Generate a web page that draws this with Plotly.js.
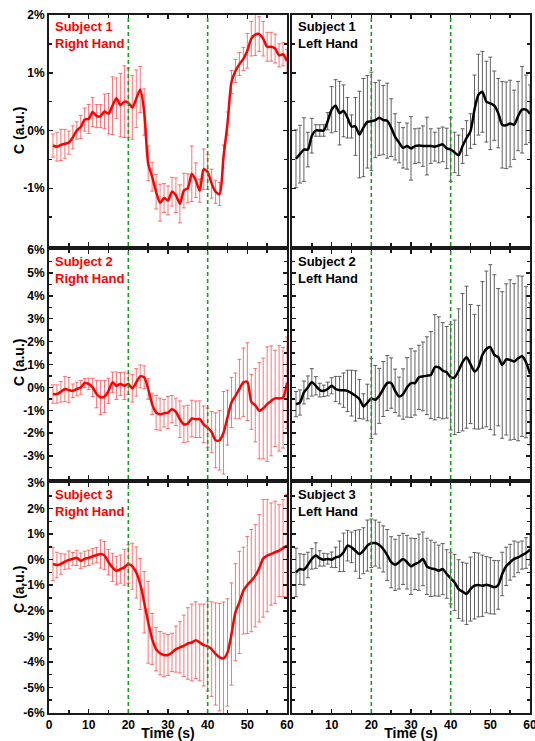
<!DOCTYPE html>
<html>
<head>
<meta charset="utf-8">
<script src="https://cdn.plot.ly/plotly-3.0.1.min.js"></script>
<style>html,body{margin:0;padding:0;background:#fff;}#chart{width:535px;height:741px;}</style>
</head>
<body>
<div id="chart"></div>
<script>
const time = [1,2,3,4,5,6,7,8,9,10,11,12,13,14,15,16,17,18,19,20,21,22,23,24,25,26,27,28,29,30,31,32,33,34,35,36,37,38,39,40,41,42,43,44,45,46,47,48,49,50,51,52,53,54,55,56,57,58,59,60];

const s1Right = [-0.26,-0.28,-0.25,-0.23,-0.21,-0.12,0.0,0.06,0.19,0.2,0.32,0.25,0.25,0.33,0.29,0.43,0.56,0.44,0.5,0.48,0.4,0.55,0.71,0.32,-0.57,-0.8,-1.06,-1.25,-1.17,-1.21,-1.06,-1.12,-1.27,-1.04,-1.0,-0.75,-0.86,-1.04,-0.67,-0.72,-0.92,-1.06,-1.1,-0.45,0.12,0.84,1.03,1.15,1.24,1.38,1.59,1.66,1.67,1.59,1.45,1.45,1.42,1.3,1.32,1.2];
const s1RightErr = [0.2,0.25,0.27,0.25,0.2,0.2,0.15,0.2,0.2,0.25,0.25,0.2,0.2,0.3,0.35,0.5,0.35,0.55,0.62,0.6,0.55,0.5,0.4,0.4,0.3,0.25,0.3,0.32,0.25,0.25,0.25,0.3,0.33,0.3,0.25,0.48,0.3,0.2,0.35,0.3,0.25,0.2,0.2,0.2,0.2,0.2,0.2,0.2,0.2,0.3,0.3,0.36,0.3,0.3,0.25,0.25,0.25,0.2,0.2,0.2];

const s1Left = [-0.49,-0.41,-0.33,-0.33,-0.09,0.0,0.0,0.0,0.16,0.36,0.43,0.3,0.34,0.22,0.07,0.07,-0.07,0.05,0.15,0.16,0.18,0.22,0.18,0.17,0.05,-0.11,-0.21,-0.3,-0.27,-0.31,-0.27,-0.26,-0.27,-0.27,-0.27,-0.28,-0.26,-0.24,-0.31,-0.33,-0.38,-0.43,-0.27,-0.13,-0.01,0.36,0.62,0.67,0.5,0.47,0.43,0.3,0.1,0.09,0.12,0.1,0.25,0.36,0.36,0.29];
const s1LeftErr = [0.5,0.5,0.55,0.3,0.3,0.1,0.1,0.1,0.15,0.4,0.45,0.55,0.45,0.35,0.2,0.5,0.75,0.85,0.8,0.85,0.65,0.65,0.6,0.65,0.5,0.4,0.35,0.35,0.4,0.55,0.3,0.3,0.35,0.5,0.3,0.25,0.3,0.3,0.35,0.55,0.35,0.35,0.3,0.3,0.3,0.6,0.7,0.7,0.7,0.8,0.6,0.6,0.75,0.75,0.75,0.6,0.6,0.75,0.6,0.5];

const s2Right = [-0.29,-0.29,-0.19,-0.07,-0.12,-0.15,-0.07,0.0,0.19,0.15,0.0,-0.29,-0.44,-0.4,-0.15,0.22,0.07,0.15,0.07,0.15,-0.04,0.22,0.48,0.44,-0.07,-0.73,-1.1,-1.17,-1.13,-1.1,-0.95,-1.07,-1.39,-1.61,-1.58,-1.36,-1.39,-1.39,-1.61,-1.76,-1.95,-2.31,-2.31,-1.98,-1.32,-0.66,-0.37,-0.07,0.22,0.25,-0.63,-0.78,-1.02,-0.92,-0.73,-0.59,-0.48,-0.48,-0.45,0.2];
const s2RightErr = [0.4,0.4,0.45,0.55,0.55,0.3,0.3,0.3,0.2,0.25,0.4,0.6,0.75,0.7,0.55,0.45,0.6,0.5,0.6,0.45,0.6,0.6,0.5,0.5,0.45,0.45,0.75,0.7,0.6,0.7,0.6,0.6,0.8,0.8,0.8,0.8,0.8,0.8,0.8,0.85,0.9,1.2,1.3,1.8,1.2,1.1,1.0,1.3,1.5,1.7,1.2,1.6,2.1,2.2,2.5,2.4,2.1,2.3,2.2,2.0];

const s2Left = [-0.73,-0.66,-0.22,0.0,0.22,0.07,-0.12,-0.15,-0.07,0.07,-0.07,-0.12,-0.12,-0.15,-0.25,-0.37,-0.51,-0.83,-0.66,-0.48,-0.54,-0.37,-0.07,0.19,0.19,-0.15,-0.4,-0.29,0.0,0.19,0.19,0.44,0.48,0.51,0.54,0.88,0.88,0.73,0.66,0.44,0.44,0.73,1.1,1.32,1.02,0.69,0.88,1.42,1.68,1.76,1.42,1.32,0.98,1.22,1.2,1.13,1.27,1.36,1.1,0.59];
const s2LeftErr = [0.55,0.55,0.5,0.5,0.6,0.4,0.3,0.25,0.3,0.35,0.55,0.6,0.75,0.9,1.0,1.1,0.85,0.55,0.8,1.75,1.5,1.2,1.2,1.2,1.1,0.95,0.85,1.1,1.3,1.5,1.4,1.4,1.5,1.7,1.9,2.3,2.2,2.1,2.0,2.3,2.5,2.7,3.0,3.1,2.6,2.5,2.7,3.2,3.4,3.6,3.5,3.0,3.2,3.3,3.5,3.4,3.6,3.5,3.3,3.1];

const s3Right = [-0.17,-0.21,-0.17,-0.08,-0.01,0.03,0.07,-0.04,0.03,0.07,0.13,0.18,0.22,0.16,-0.1,-0.3,-0.43,-0.37,-0.3,-0.17,-0.26,-0.5,-0.95,-1.67,-2.45,-3.1,-3.5,-3.66,-3.73,-3.73,-3.63,-3.5,-3.43,-3.37,-3.28,-3.24,-3.15,-3.24,-3.34,-3.39,-3.5,-3.69,-3.82,-3.86,-3.63,-2.91,-2.06,-1.67,-1.21,-0.99,-0.82,-0.63,-0.34,0.05,0.16,0.22,0.29,0.35,0.45,0.55];
const s3RightErr = [0.65,0.5,0.4,0.3,0.35,0.25,0.3,0.3,0.3,0.3,0.3,0.3,0.55,0.55,0.5,0.55,0.55,0.55,0.7,0.75,0.9,1.0,1.0,1.2,1.6,1.0,0.85,0.85,0.85,0.8,0.75,0.9,1.0,1.2,1.4,1.5,1.5,1.5,1.6,1.75,1.85,2.0,2.1,2.2,2.1,2.0,1.9,2.0,1.7,1.9,2.0,2.0,2.1,2.3,2.2,2.0,2.0,1.8,1.9,2.0];

const s3Left = [-0.5,-0.37,-0.39,-0.21,0.03,0.16,0.05,0.0,0.03,0.0,0.09,0.13,0.29,0.55,0.48,0.35,0.22,0.35,0.55,0.64,0.65,0.57,0.42,0.18,-0.1,-0.2,-0.1,0.03,-0.1,-0.26,-0.17,-0.1,0.03,-0.26,-0.34,-0.37,-0.43,-0.37,-0.56,-0.73,-0.89,-1.15,-1.25,-1.34,-1.15,-1.02,-0.99,-1.02,-0.98,-1.02,-1.08,-0.99,-0.56,-0.26,-0.1,0.03,0.09,0.18,0.26,0.39];
const s3LeftErr = [0.95,0.6,0.6,0.5,0.4,0.5,0.3,0.25,0.2,0.3,0.4,0.6,0.75,0.6,0.6,0.8,0.95,0.9,1.0,0.95,0.9,0.9,0.9,1.0,1.0,1.0,1.05,1.0,1.05,1.1,1.0,1.1,1.05,1.1,1.1,1.05,1.0,1.0,0.95,1.0,1.1,1.15,1.15,1.2,1.25,1.3,1.25,1.2,1.1,1.1,1.05,0.95,0.85,0.75,0.7,0.7,0.6,0.55,0.6,0.6];

const panelLabels = ["Subject 1<br>Right Hand","Subject 1<br>Left Hand","Subject 2<br>Right Hand","Subject 2<br>Left Hand","Subject 3<br>Right Hand","Subject 3<br>Left Hand"];

const row1Ticks = [-1,0,1,2];
const row1TickText = ["-1%","0%","1%","2%"];
const row2Ticks = [-3,-2,-1,0,1,2,3,4,5,6];
const row2TickText = ["-3%","-2%","-1%","0%","1%","2%","3%","4%","5%","6%"];
const row3Ticks = [-6,-5,-4,-3,-2,-1,0,1,2,3];
const row3TickText = ["-6%","-5%","-4%","-3%","-2%","-1%","0%","1%","2%","3%"];
const xTicks = [0,10,20,30,40,50,60];
const xTickTextLeft = ["0","10","20","30","40","50","60"];
const xTickTextRight = ["","10","20","30","40","50","60"];
const stimLines = [20,40];
const yTitle = "C (a.u.)";
const xTitle = "Time (s)";

const W = 535, H = 741;
const colX = [[49,287],[292,530]];
const rowY = [[15,246],[250,479],[483,713]];
const rowRange = [[-2,2],[-4,6],[-6,3]];
const yTitleCenter = [131,363,590];
const rowTicks = [[row1Ticks,row1TickText],[row2Ticks,row2TickText],[row3Ticks,row3TickText]];

const series = [[s1Right,s1RightErr],[s1Left,s1LeftErr],[s2Right,s2RightErr],[s2Left,s2LeftErr],[s3Right,s3RightErr],[s3Left,s3LeftErr]];

const FONT = "Liberation Sans, Arial, sans-serif";
const AX = '#1a1a1a';
const traces = [];
const layout = {
  width: W, height: H,
  margin: {l:0, r:0, t:0, b:0},
  paper_bgcolor: '#fff', plot_bgcolor: '#fff',
  showlegend: false,
  font: {family: FONT, size: 12, color: '#000', weight: 'bold'},
  shapes: [], annotations: []
};

for (let i = 0; i < 6; i++) {
  const row = Math.floor(i/2), col = i % 2;
  const n = i === 0 ? '' : String(i+1);
  const isRed = col === 0;
  const lineColor = isRed ? '#ff0000' : '#000000';
  const errColor = isRed ? 'rgba(255,70,70,0.75)' : 'rgba(70,70,70,0.85)';
  traces.push({
    type: 'scatter', mode: 'lines',
    x: time, y: series[i][0],
    xaxis: 'x'+n, yaxis: 'y'+n,
    line: {color: lineColor, width: 2.5, shape: 'spline', smoothing: 0.7},
    error_y: {type: 'data', array: series[i][1], visible: true, color: errColor, thickness: 1, width: 2}
  });
  const xa = {
    domain: [colX[col][0]/W, colX[col][1]/W],
    range: [0,60], anchor: 'y'+n,
    showline: true, linewidth: 2, linecolor: AX, mirror: 'ticks',
    ticks: 'inside', ticklen: 4, tickwidth: 1.5, tickcolor: AX,
    tickvals: xTicks, ticktext: col === 0 ? xTickTextLeft : xTickTextRight,
    minor: {dtick: 5, tick0: 0, ticks: 'inside', ticklen: 3, tickwidth: 1.5, tickcolor: AX, showgrid: false},
    showgrid: false, zeroline: false,
    showticklabels: row === 2,
    ticklabeloverflow: 'allow',
    tickfont: {family: FONT, size: 12, weight: 'bold', color: '#000'}
  };
  if (row === 2) {
    xa.title = {text: xTitle, font: {family: FONT, size: 14, weight: 'bold', color: '#000'}, standoff: 1};
  }
  const ya = {
    domain: [1 - rowY[row][1]/H, 1 - rowY[row][0]/H],
    range: rowRange[row], anchor: 'x'+n,
    showline: true, linewidth: 2, linecolor: AX, mirror: 'ticks',
    ticks: 'inside', ticklen: 4, tickwidth: 1.5, tickcolor: AX,
    tickvals: rowTicks[row][0], ticktext: rowTicks[row][1],
    minor: {dtick: 0.5, tick0: 0, ticks: 'inside', ticklen: 3, tickwidth: 1.5, tickcolor: AX, showgrid: false},
    showgrid: false, zeroline: false,
    showticklabels: col === 0,
    ticklabeloverflow: 'allow',
    tickfont: {family: FONT, size: 12, weight: 'bold', color: '#000'}
  };
  layout['xaxis'+n] = xa;
  layout['yaxis'+n] = ya;
  if (col === 0) {
    layout.annotations.push({
      xref: 'paper', yref: 'paper', x: 19/W, y: 1 - yTitleCenter[row]/H,
      xanchor: 'center', yanchor: 'middle', textangle: -90, showarrow: false,
      text: yTitle, font: {family: FONT, size: 14, weight: 'bold', color: '#000'}
    });
  }
  stimLines.forEach(s => {
    layout.shapes.push({type: 'line', xref: 'x'+n, yref: 'y'+n+' domain', x0: s, x1: s, y0: 0, y1: 1,
      line: {color: '#1e9a1e', width: 1.6, dash: '4px,3px'}});
  });
  layout.annotations.push({
    xref: 'x'+n+' domain', yref: 'y'+n+' domain', x: 0, y: 1,
    xanchor: 'left', yanchor: 'top', xshift: 4, yshift: -2,
    align: 'left', showarrow: false, text: panelLabels[i],
    font: {family: FONT, size: 13, weight: 'bold', color: isRed ? '#ff0000' : '#000000'}
  });
}

Plotly.newPlot('chart', traces, layout, {displayModeBar: false, staticPlot: true});
</script>
</body>
</html>
